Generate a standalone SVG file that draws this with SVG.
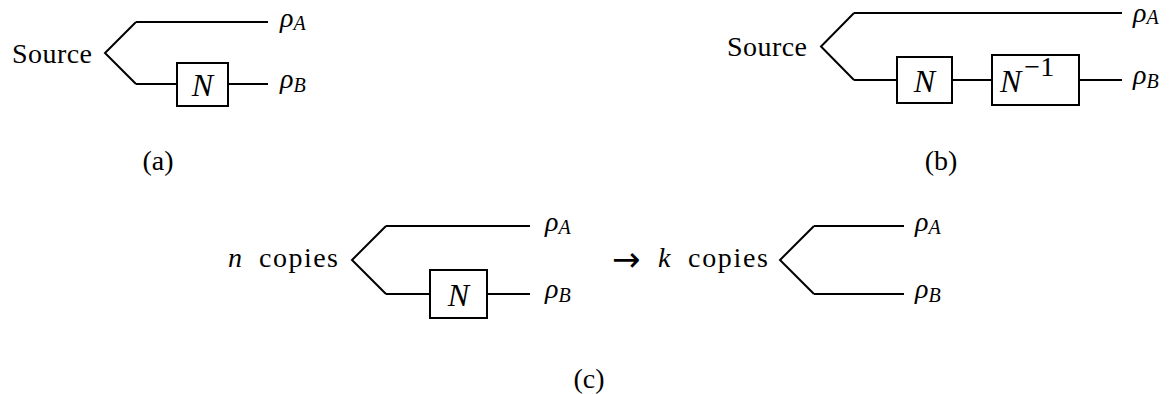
<svg xmlns="http://www.w3.org/2000/svg" width="1172" height="394" viewBox="0 0 1172 394">
<style>
.w{fill:none;stroke:#000;stroke-width:2;stroke-linejoin:miter}
.b{fill:#fff;stroke:#000;stroke-width:2}
text{font-family:'Liberation Serif','Times New Roman','DejaVu Serif',serif;fill:#000}
.t{font-size:28px}
.i{font-style:italic;font-size:28px}
.s{font-style:italic;font-size:20px}
.n{font-style:italic;font-size:32px}
.ar{font-family:'DejaVu Sans','Liberation Serif',sans-serif;font-size:34px}
</style>
<rect width="1172" height="394" fill="#fff"/>
<g id="connectors">
  <path class="w" d="M136,22 L105,53 L136,84 M136,22 H268 M136,84 H177 M228,84 H268"/>
  <path class="w" d="M854,13 L821,46.5 L854,80 M854,13 H1122 M854,80 H897 M952,80 H992 M1079,80 H1122"/>
  <path class="w" d="M386,226 L352,260 L386,294 M386,226 H530 M386,294 H430 M487,294 H530"/>
  <path class="w" d="M814,226 L780,260 L814,294 M814,226 H904 M814,294 H904"/>
</g>
<g id="panel-a">
  <text class="t" x="12" y="63" textLength="80">Source</text>
  <g id="a-channel">
    <rect class="b" x="177" y="63" width="51" height="43"/>
    <text class="n" x="202.5" y="96" text-anchor="middle">N</text>
  </g>
  <text id="a-rhoA" x="280" y="27"><tspan class="i">ρ</tspan><tspan class="s" dy="3">A</tspan></text>
  <text id="a-rhoB" x="280" y="88"><tspan class="i">ρ</tspan><tspan class="s" dy="4">B</tspan></text>
  <text class="t" x="158" y="170" text-anchor="middle">(a)</text>
</g>
<g id="panel-b">
  <text class="t" x="727" y="56" textLength="80">Source</text>
  <g id="b-channel">
    <rect class="b" x="897" y="57" width="55" height="46"/>
    <text class="n" x="924.5" y="92" text-anchor="middle">N</text>
  </g>
  <g id="b-inverse">
    <rect class="b" x="992" y="55" width="87" height="50"/>
    <text x="1000" y="92"><tspan class="n">N</tspan><tspan class="t" font-size="20" dy="-16" dx="3">−1</tspan></text>
  </g>
  <text id="b-rhoA" x="1133" y="22"><tspan class="i">ρ</tspan><tspan class="s" dy="2">A</tspan></text>
  <text id="b-rhoB" x="1133" y="84"><tspan class="i">ρ</tspan><tspan class="s" dy="4">B</tspan></text>
  <text class="t" x="941" y="170" text-anchor="middle">(b)</text>
</g>
<g id="panel-c">
  <text class="i" x="228" y="267">n</text>
  <text class="t" x="259" y="267" textLength="79">copies</text>
  <g id="c-channel">
    <rect class="b" x="430" y="270" width="57" height="48"/>
    <text class="n" x="458.5" y="306" text-anchor="middle">N</text>
  </g>
  <text id="c-rhoA" x="545" y="231"><tspan class="i">ρ</tspan><tspan class="s" dy="3">A</tspan></text>
  <text id="c-rhoB" x="545" y="298"><tspan class="i">ρ</tspan><tspan class="s" dy="4">B</tspan></text>
  <text class="ar" x="612" y="271">→</text>
  <text class="i" x="658" y="267">k</text>
  <text class="t" x="688" y="267" textLength="80">copies</text>
  <text id="c-rhoA2" x="915" y="231"><tspan class="i">ρ</tspan><tspan class="s" dy="3">A</tspan></text>
  <text id="c-rhoB2" x="915" y="298"><tspan class="i">ρ</tspan><tspan class="s" dy="4">B</tspan></text>
  <text class="t" x="589" y="388" text-anchor="middle">(c)</text>
</g>
</svg>
